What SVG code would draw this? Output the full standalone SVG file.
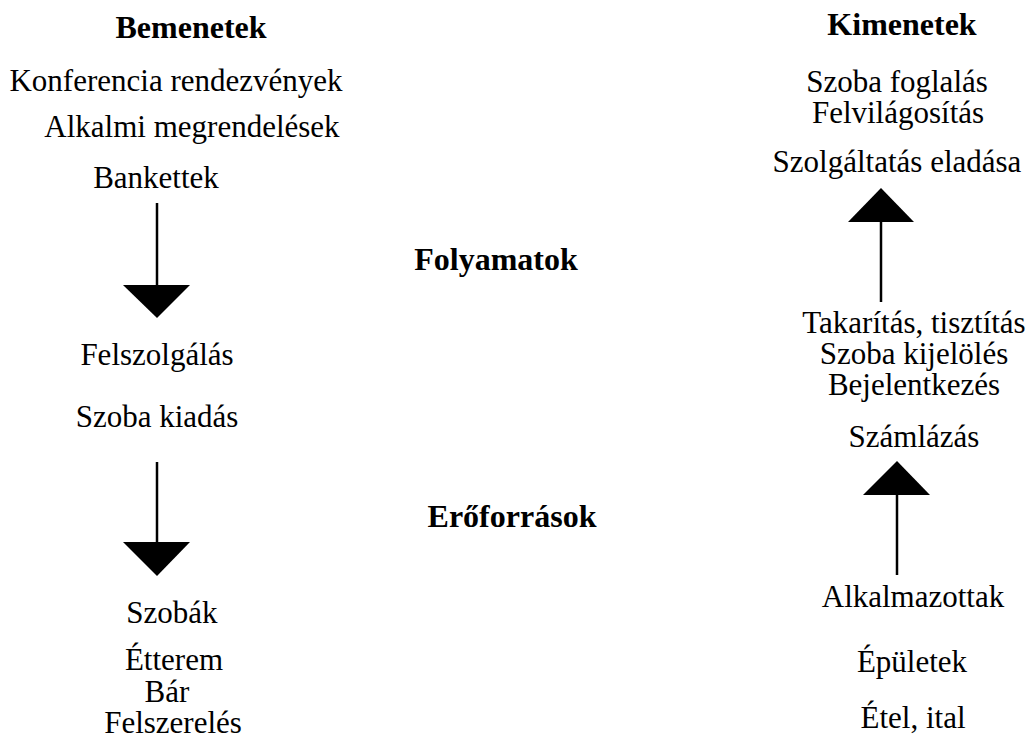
<svg xmlns="http://www.w3.org/2000/svg" width="1033" height="740" viewBox="0 0 1033 740" font-family="Liberation Serif, serif">
  <style>
    text { fill: #000; text-anchor: middle; }
    .h { font-size: 32px; font-weight: 700; }
    .t { font-size: 31px; }
    .shaft { stroke: #000; stroke-width: 2.5; fill: none; }
    .head { fill: #000; stroke: none; }
  </style>
  <rect width="1033" height="740" fill="#fff"/>

  <!-- Inputs column -->
  <g id="inputs">
    <text class="h" x="191" y="38">Bemenetek</text>
    <text class="t" x="176" y="91">Konferencia rendezvények</text>
    <text class="t" x="192" y="137">Alkalmi megrendelések</text>
    <text class="t" x="156" y="188">Bankettek</text>
  </g>

  <!-- Processes -->
  <g id="processes-title">
    <text class="h" x="496" y="270">Folyamatok</text>
  </g>
  <g id="processes-left">
    <text class="t" x="157" y="365">Felszolgálás</text>
    <text class="t" x="157" y="427">Szoba kiadás</text>
  </g>
  <g id="processes-right">
    <text class="t" x="914" y="333">Takarítás, tisztítás</text>
    <text class="t" x="914" y="364">Szoba kijelölés</text>
    <text class="t" x="914" y="395">Bejelentkezés</text>
    <text class="t" x="914" y="447">Számlázás</text>
  </g>

  <!-- Resources -->
  <g id="resources-title">
    <text class="h" x="512" y="527">Erőforrások</text>
  </g>
  <g id="resources-left">
    <text class="t" x="172" y="623">Szobák</text>
    <text class="t" x="174" y="670">Étterem</text>
    <text class="t" x="167" y="702">Bár</text>
    <text class="t" x="173" y="733">Felszerelés</text>
  </g>
  <g id="resources-right">
    <text class="t" x="913" y="607">Alkalmazottak</text>
    <text class="t" x="912" y="672">Épületek</text>
    <text class="t" x="913" y="728">Étel, ital</text>
  </g>

  <!-- Outputs column -->
  <g id="outputs">
    <text class="h" x="902" y="35">Kimenetek</text>
    <text class="t" x="897" y="92">Szoba foglalás</text>
    <text class="t" x="898" y="123">Felvilágosítás</text>
    <text class="t" x="897" y="172">Szolgáltatás eladása</text>
  </g>

  <!-- Connectors: shaft plus solid triangular head -->
  <g id="connectors">
    <line class="shaft" x1="157" y1="203" x2="157" y2="286"/>
    <polygon class="head" points="123,285 190,285 157,318"/>

    <line class="shaft" x1="157" y1="462" x2="157" y2="543"/>
    <polygon class="head" points="123,542 190,542 157,576"/>

    <line class="shaft" x1="881" y1="221" x2="881" y2="302"/>
    <polygon class="head" points="848,222 914,222 881,188"/>

    <line class="shaft" x1="897" y1="494" x2="897" y2="575"/>
    <polygon class="head" points="863,495 930,495 897,461"/>
  </g>
</svg>
